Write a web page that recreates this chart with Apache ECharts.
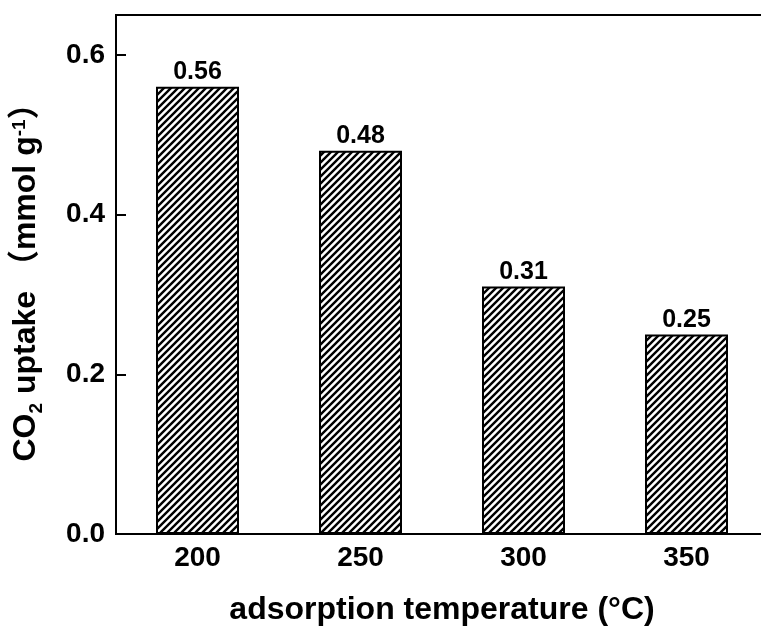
<!DOCTYPE html>
<html>
<head>
<meta charset="utf-8">
<script src="https://cdn.jsdelivr.net/npm/echarts@6/dist/echarts.min.js"></script>
<style>
html,body{margin:0;padding:0;background:#fff;}
#chart{width:761px;height:631px;}
</style>
</head>
<body>
<div id="chart"></div>
<script>
const categories = ['200', '250', '300', '350'];
const uptakeValues = [0.56, 0.48, 0.31, 0.25];
const yTicks = [0, 0.2, 0.4, 0.6];

function makeHatch() {
  const s = 7;
  const c = document.createElement('canvas');
  c.width = s; c.height = s;
  const ctx = c.getContext('2d');
  ctx.fillStyle = '#fff';
  ctx.fillRect(0, 0, s, s);
  ctx.strokeStyle = '#000';
  ctx.lineWidth = 2.4;
  ctx.beginPath();
  ctx.moveTo(-1, s + 1); ctx.lineTo(s + 1, -1);
  ctx.moveTo(-1, 1); ctx.lineTo(1, -1);
  ctx.moveTo(s - 1, s + 1); ctx.lineTo(s + 1, s - 1);
  ctx.stroke();
  return c;
}

const FONT = '"Liberation Sans", Arial, "Noto Sans CJK SC", sans-serif';
const chart = echarts.init(document.getElementById('chart'), null, {renderer: 'canvas'});
chart.setOption({
  animation: false,
  backgroundColor: '#fff',
  grid: {left: 116, width: 652, top: 15, height: 519, show: true, borderColor: '#000', borderWidth: 2, backgroundColor: 'transparent', containLabel: false, outerBoundsMode: 'none'},
  xAxis: {
    type: 'category',
    data: categories,
    name: 'adsorption temperature (°C)',
    nameLocation: 'middle',
    nameGap: 60,
    nameTextStyle: {fontFamily: FONT, fontWeight: 'bold', fontSize: 32, color: '#000'},
    axisLine: {lineStyle: {color: '#000', width: 2}},
    axisTick: {show: true, inside: true, alignWithLabel: true, length: 5, lineStyle: {color: '#000', width: 2}},
    axisLabel: {fontFamily: FONT, fontWeight: 'bold', fontSize: 28, color: '#000', margin: 10},
    splitLine: {show: false}
  },
  yAxis: {
    type: 'value',
    min: 0,
    max: 0.65,
    interval: 0.2,
    name: '{a|CO}{sub|2}{a| uptake （mmol g}{sup|-1}{a|）}',
    nameLocation: 'middle',
    nameRotate: 90,
    nameGap: 72,
    nameTextStyle: {
      fontFamily: FONT, fontWeight: 'bold', fontSize: 32, color: '#000',
      rich: {
        a: {fontFamily: FONT, fontWeight: 'bold', fontSize: 32, color: '#000', lineHeight: 34, verticalAlign: 'top'},
        sub: {fontFamily: FONT, fontWeight: 'bold', fontSize: 19, color: '#000', lineHeight: 19, verticalAlign: 'top', padding: [17, 0, 0, 0]},
        sup: {fontFamily: FONT, fontWeight: 'bold', fontSize: 19, color: '#000', lineHeight: 19, verticalAlign: 'top', padding: [0, 0, 0, 0]}
      }
    },
    axisLine: {show: true, lineStyle: {color: '#000', width: 2}},
    axisTick: {show: true, inside: true, length: 10, lineStyle: {color: '#000', width: 2}},
    axisLabel: {
      fontFamily: FONT, fontWeight: 'bold', fontSize: 28, color: '#000', margin: 11,
      formatter: function (v) {
        for (const t of yTicks) { if (Math.abs(v - t) < 1e-9) return t.toFixed(1); }
        return '';
      }
    },
    splitLine: {show: false}
  },
  series: [{
    type: 'bar',
    data: uptakeValues,
    barWidth: 83,
    itemStyle: {color: {image: makeHatch(), repeat: 'repeat'}, borderColor: '#000', borderWidth: 2},
    label: {
      show: true, position: 'top', distance: 2,
      fontFamily: FONT, fontWeight: 'bold', fontSize: 25, color: '#000',
      formatter: function (p) { return p.value.toFixed(2); }
    }
  }]
});
</script>
</body>
</html>
